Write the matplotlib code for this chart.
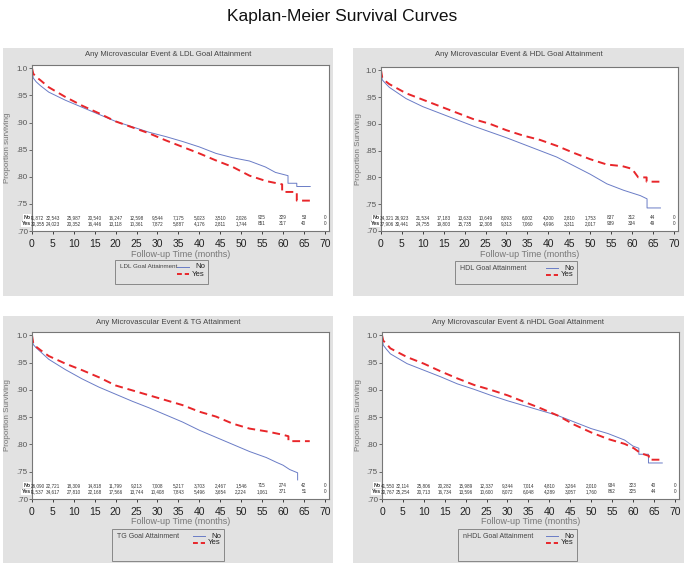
import matplotlib
matplotlib.use("Agg")
import matplotlib.pyplot as plt
from matplotlib.patches import Rectangle
from matplotlib.lines import Line2D

plt.rcParams['font.family'] = ['Liberation Sans', 'DejaVu Sans']

W, H = 685, 566

# ---- data ----
risk_times = list(range(0, 75, 5))

# LDL
ldl_no_t = [0, 0.3, 1, 2, 4, 8, 12, 16, 20, 24, 28, 32, 36, 40, 44, 48, 52, 55.8, 58.2, 61.2, 61.2, 63.3, 63.3, 66.5]
ldl_no_s = [1.0, 0.982, 0.975, 0.968, 0.956, 0.941, 0.928, 0.915, 0.902, 0.892, 0.882, 0.874, 0.865, 0.855, 0.843, 0.835, 0.829, 0.818, 0.808, 0.802, 0.788, 0.788, 0.782, 0.782]
ldl_yes_t = [0, 0.3, 1, 2, 4, 8, 12, 16, 20, 24, 28, 32, 36, 40, 44, 48, 52, 56, 59.8, 59.8, 63.3, 63.3, 66.5]
ldl_yes_s = [1.0, 0.99, 0.984, 0.978, 0.965, 0.947, 0.931, 0.917, 0.902, 0.891, 0.88, 0.867, 0.855, 0.843, 0.830, 0.818, 0.802, 0.792, 0.786, 0.772, 0.772, 0.756, 0.756]
ldl_no_risk = [41872, 32543, 25987, 20540, 16247, 12598, 9544, 7175, 5023, 3510, 2026, 925, 329, 53, 0]
ldl_yes_risk = [30355, 24023, 20352, 16446, 13118, 10361, 7872, 5887, 4176, 2811, 1744, 851, 317, 40, 0]

# HDL
hdl_no_t = [0, 0.3, 1, 2, 6, 10, 14, 18, 22, 26, 30, 34, 38, 42, 46, 50, 54, 58, 62, 63.6, 63.6, 66.8]
hdl_no_s = [1.0, 0.982, 0.976, 0.968, 0.947, 0.932, 0.92, 0.908, 0.896, 0.885, 0.874, 0.862, 0.85, 0.838, 0.822, 0.806, 0.788, 0.776, 0.766, 0.76, 0.743, 0.743]
hdl_yes_t = [0, 0.3, 1, 2, 6, 10, 14, 18, 22, 26, 30, 34, 38, 42, 46, 50, 54, 57.7, 60, 61.5, 63.5, 63.5, 66.8]
hdl_yes_s = [1.0, 0.986, 0.98, 0.974, 0.957, 0.945, 0.933, 0.921, 0.909, 0.90, 0.888, 0.878, 0.87, 0.859, 0.846, 0.834, 0.824, 0.821, 0.816, 0.80, 0.80, 0.792, 0.792]
hdl_no_risk = [34321, 26923, 21534, 17183, 13633, 10649, 8093, 6002, 4200, 2810, 1753, 837, 312, 44, 0]
hdl_yes_risk = [37906, 30441, 24755, 19803, 15735, 12308, 9313, 7060, 4996, 3311, 2017, 939, 334, 49, 0]

# TG
tg_no_t = [0, 0.3, 1, 2, 4, 8, 12, 16, 20, 24, 28, 32, 36, 40, 44, 48, 52, 56, 58.5, 60, 61.6, 63.5, 63.5]
tg_no_s = [1.0, 0.983, 0.977, 0.97, 0.956, 0.937, 0.92, 0.905, 0.892, 0.879, 0.867, 0.854, 0.841, 0.826, 0.813, 0.8, 0.787, 0.776, 0.767, 0.762, 0.754, 0.748, 0.735]
tg_yes_t = [0, 0.3, 1, 2, 4, 8, 12, 16, 20, 24, 28, 32, 36, 40, 44, 48, 52, 56, 59.8, 61.3, 61.3, 66.4]
tg_yes_s = [1.0, 0.985, 0.979, 0.973, 0.962, 0.948, 0.936, 0.923, 0.908, 0.899, 0.89, 0.881, 0.872, 0.86, 0.851, 0.838, 0.829, 0.824, 0.818, 0.815, 0.806, 0.806]
tg_no_risk = [26090, 22721, 18309, 14818, 11799, 9213, 7008, 5217, 3703, 2467, 1546, 715, 274, 42, 0]
tg_yes_risk = [41537, 34617, 27810, 22168, 17566, 13744, 10408, 7843, 5496, 3654, 2224, 1061, 371, 51, 0]

# nHDL
nhdl_no_t = [0, 0.3, 1, 2, 6, 10, 14, 18, 22, 26, 30, 34, 38, 42, 46, 50, 54, 58, 60, 61.4, 61.4, 63.7, 63.7, 67]
nhdl_no_s = [1.0, 0.982, 0.975, 0.966, 0.948, 0.936, 0.924, 0.911, 0.901, 0.89, 0.88, 0.871, 0.862, 0.853, 0.841, 0.829, 0.82, 0.808, 0.797, 0.793, 0.782, 0.782, 0.766, 0.766]
nhdl_yes_t = [0, 0.3, 1, 2, 6, 10, 14, 18, 22, 26, 30, 34, 38, 42, 46, 50, 54, 58, 60.2, 61.8, 63.8, 63.8, 67]
nhdl_yes_s = [1.0, 0.99, 0.985, 0.976, 0.96, 0.948, 0.934, 0.921, 0.909, 0.90, 0.89, 0.878, 0.866, 0.853, 0.836, 0.822, 0.81, 0.801, 0.793, 0.784, 0.779, 0.772, 0.772]
nhdl_no_risk = [41550, 32114, 25806, 20282, 15989, 12337, 9344, 7014, 4810, 3264, 2010, 934, 323, 40, 0]
nhdl_yes_risk = [30767, 25254, 20713, 16734, 13596, 10600, 8072, 6048, 4289, 3057, 1760, 862, 325, 44, 0]

yticks = [0.70, 0.75, 0.80, 0.85, 0.90, 0.95, 1.0]
ytick_labels = ['.70', '.75', '.80', '.85', '.90', '.95', '1.0']

panels = [
    dict(title='Any Microvascular Event & LDL Goal Attainment', legend='LDL Goal Attainment',
         ylabel='Proportion surviving', lfs=4.5,
         no=(ldl_no_t, ldl_no_s), yes=(ldl_yes_t, ldl_yes_s), risk=(ldl_no_risk, ldl_yes_risk),
         bg=(3, 48, 333, 296), ax=(32, 65, 329, 231), leg=(115, 260, 208, 284), tx=54),
    dict(title='Any Microvascular Event & HDL Goal Attainment', legend='HDL Goal Attainment',
         ylabel='Proportion Surviving', lfs=5.0,
         no=(hdl_no_t, hdl_no_s), yes=(hdl_yes_t, hdl_yes_s), risk=(hdl_no_risk, hdl_yes_risk),
         bg=(353, 48, 684, 296), ax=(381, 67, 678, 231), leg=(455, 261, 577, 284), tx=55),
    dict(title='Any Microvascular Event & TG Attainment', legend='TG Goal Attainment',
         ylabel='Proportion Surviving', lfs=5.0,
         no=(tg_no_t, tg_no_s), yes=(tg_yes_t, tg_yes_s), risk=(tg_no_risk, tg_yes_risk),
         bg=(3, 316, 333, 563), ax=(32, 332, 329, 499), leg=(112, 529, 224, 561), tx=323),
    dict(title='Any Microvascular Event & nHDL Goal Attainment', legend='nHDL Goal Attainment',
         ylabel='Proportion Surviving', lfs=5.0,
         no=(nhdl_no_t, nhdl_no_s), yes=(nhdl_yes_t, nhdl_yes_s), risk=(nhdl_no_risk, nhdl_yes_risk),
         bg=(353, 316, 684, 563), ax=(382, 332, 679, 499), leg=(458, 529, 577, 561), tx=323),
]

BLUE = '#6a7cc6'
RED = '#e8262a'
GRAY_BG = '#e2e2e2'

fig = plt.figure(figsize=(W / 100, H / 100), dpi=100)
fig.text(0.5, 1 - 16 / H, 'Kaplan-Meier Survival Curves', ha='center', va='center',
         fontsize=12.5, color='#111111')

for p in panels:
    l, t, r, b = p['bg']
    fig.add_artist(Rectangle((l / W, 1 - b / H), (r - l) / W, (b - t) / H,
                             transform=fig.transFigure, facecolor=GRAY_BG,
                             edgecolor='none', zorder=-2))
    al, at, ar, ab = p['ax']
    ax = fig.add_axes([al / W, 1 - ab / H, (ar - al) / W, (ab - at) / H])
    ax.set_facecolor('white')

    ax.plot(*p['no'], color=BLUE, lw=0.7)
    ax.plot(*p['yes'], color=RED, lw=1.4, dashes=(4, 2.5))

    ax.set_xlim(0, 71)
    ax.set_ylim(0.70, 1.006)
    ax.set_xticks(range(0, 75, 5))
    ax.set_yticks(yticks)
    ax.set_yticklabels(ytick_labels)
    ax.tick_params(axis='x', labelsize=7.5, colors='#222222', length=2.5, width=0.6, pad=3)
    ax.tick_params(axis='y', labelsize=5.8, colors='#555555', length=2, width=0.6, pad=1)
    for s in ax.spines.values():
        s.set_color('#777777')
        s.set_linewidth(0.8)

    # number at risk rows (first column nudged right so it clears the row labels)
    no_risk, yes_risk = p['risk']
    for tt, n_no, n_yes in zip(risk_times, no_risk, yes_risk):
        xt = tt + 1.3 if tt == 0 else tt
        ax.text(xt, 0.725, f'{n_no:,}', ha='center', va='center', fontsize=3.3, color='#333333')
        ax.text(xt, 0.7135, f'{n_yes:,}', ha='center', va='center', fontsize=3.3, color='#333333')
    ax.text(-0.3, 0.725, 'No', ha='right', va='center', fontsize=3.8, fontweight='bold',
            color='#333333', clip_on=False,
            bbox=dict(facecolor='white', edgecolor='none', pad=0.4))
    ax.text(-0.3, 0.7135, 'Yes', ha='right', va='center', fontsize=3.8, fontweight='bold',
            color='#333333', clip_on=False,
            bbox=dict(facecolor='white', edgecolor='none', pad=0.4))

    # titles and labels
    fig.text((l + r) / 2 / W, 1 - p['tx'] / H, p['title'], ha='center', va='center',
             fontsize=5.6, color='#444444')
    fig.text((l + 5) / W, 1 - (at + ab) / 2 / H, p['ylabel'], rotation=90, ha='center',
             va='center', fontsize=5.8, color='#777777')
    fig.text((al + ar) / 2 / W, 1 - (ab + 23) / H, 'Follow-up Time (months)', ha='center',
             va='center', fontsize=6.5, color='#777777')

    # legend box
    gl, gt, gr, gb = p['leg']
    fig.add_artist(Rectangle((gl / W, 1 - gb / H), (gr - gl) / W, (gb - gt) / H,
                             transform=fig.transFigure, facecolor=GRAY_BG,
                             edgecolor='#888888', lw=0.7, zorder=1))
    fig.text((gl + 5) / W, 1 - (gt + 7) / H, p['legend'], ha='left', va='center',
             fontsize=p['lfs'], color='#444444')
    fig.add_artist(Line2D([(gr - 31) / W, (gr - 19) / W], [1 - (gt + 7) / H] * 2,
                          transform=fig.transFigure, color=BLUE, lw=0.7))
    fig.add_artist(Line2D([(gr - 31) / W, (gr - 19) / W], [1 - (gt + 14) / H] * 2,
                          transform=fig.transFigure, color=RED, lw=1.4, dashes=(2.5, 1.5)))
    fig.text((gr - 3) / W, 1 - (gt + 7) / H, 'No', ha='right', va='center',
             fontsize=5.6, color='#222222')
    fig.text((gr - 3) / W, 1 - (gt + 14) / H, 'Yes', ha='right', va='center',
             fontsize=5.6, color='#222222')

fig.savefig('out.png', dpi=100)
